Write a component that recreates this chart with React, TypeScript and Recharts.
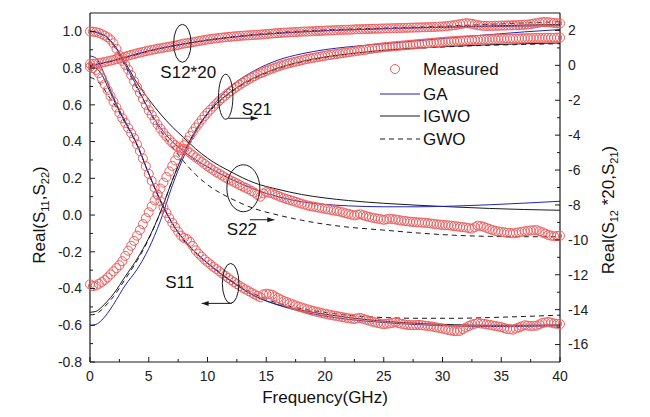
import React from "react";
import { ComposedChart, Line, Scatter, XAxis, YAxis, ReferenceDot, Legend } from "recharts";

const FONT = "'Liberation Sans', Arial, sans-serif";
const RED = "#ef5d5d";
const BLUE = "#2323b0";
const DARK = "#1a1a1a";

// measured frequency points (GHz), 0.25 GHz apart
const freq = [
  0, 0.25, 0.5, 0.75, 1, 1.25, 1.5, 1.75, 2, 2.25, 2.5, 2.75, 3, 3.25, 3.5, 3.75, 4, 4.25, 4.5, 4.75,
  5, 5.25, 5.5, 5.75, 6, 6.25, 6.5, 6.75, 7, 7.25, 7.5, 7.75, 8, 8.25, 8.5, 8.75, 9, 9.25, 9.5, 9.75,
  10, 10.25, 10.5, 10.75, 11, 11.25, 11.5, 11.75, 12, 12.25, 12.5, 12.75, 13, 13.25, 13.5, 13.75, 14, 14.25, 14.5, 14.75,
  15, 15.25, 15.5, 15.75, 16, 16.25, 16.5, 16.75, 17, 17.25, 17.5, 17.75, 18, 18.25, 18.5, 18.75, 19, 19.25, 19.5, 19.75,
  20, 20.25, 20.5, 20.75, 21, 21.25, 21.5, 21.75, 22, 22.25, 22.5, 22.75, 23, 23.25, 23.5, 23.75, 24, 24.25, 24.5, 24.75,
  25, 25.25, 25.5, 25.75, 26, 26.25, 26.5, 26.75, 27, 27.25, 27.5, 27.75, 28, 28.25, 28.5, 28.75, 29, 29.25, 29.5, 29.75,
  30, 30.25, 30.5, 30.75, 31, 31.25, 31.5, 31.75, 32, 32.25, 32.5, 32.75, 33, 33.25, 33.5, 33.75, 34, 34.25, 34.5, 34.75,
  35, 35.25, 35.5, 35.75, 36, 36.25, 36.5, 36.75, 37, 37.25, 37.5, 37.75, 38, 38.25, 38.5, 38.75, 39, 39.25, 39.5, 39.75,
  40,
];

// left axis: Real(S22), Real(S11)
const s22Meas = [
  1.0, 0.998, 0.996, 0.992, 0.985, 0.977, 0.968, 0.955, 0.935, 0.905, 0.87, 0.84, 0.818, 0.792, 0.762, 0.728, 0.696, 0.665, 0.632, 0.6,
  0.57, 0.545, 0.518, 0.493, 0.47, 0.448, 0.428, 0.41, 0.394, 0.38, 0.368, 0.362, 0.358, 0.352, 0.34, 0.326, 0.314, 0.303, 0.29, 0.278, 0.266,
  0.255, 0.244, 0.234, 0.225, 0.215, 0.205, 0.196, 0.188,
  0.18, 0.172, 0.163, 0.155, 0.148, 0.14, 0.131, 0.122,
  0.11, 0.1, 0.118, 0.125, 0.122, 0.118, 0.111, 0.105,
  0.098, 0.092, 0.087, 0.082, 0.077, 0.072, 0.067, 0.062,
  0.057, 0.052, 0.049, 0.046, 0.043, 0.04, 0.037, 0.034,
  0.031, 0.028, 0.025, 0.022, 0.019, 0.015, 0.01, 0.006,
  0.002, -0.002, 0.002, 0.004, -0.001, -0.006, -0.01, -0.014,
  -0.017, -0.02, -0.023, -0.026, -0.023, -0.02, -0.022, -0.024,
  -0.027, -0.03, -0.032, -0.034, -0.036, -0.038, -0.039, -0.04,
  -0.041, -0.042, -0.044, -0.046, -0.048, -0.05, -0.052, -0.054,
  -0.055, -0.056, -0.058, -0.06, -0.062, -0.064, -0.066, -0.068,
  -0.071, -0.074, -0.066, -0.058, -0.06, -0.064, -0.07, -0.076,
  -0.081, -0.086, -0.089, -0.092, -0.094, -0.096, -0.098, -0.1,
  -0.097, -0.094, -0.091, -0.088, -0.086, -0.084, -0.083, -0.082,
  -0.088, -0.094, -0.101, -0.108, -0.112, -0.116, -0.114, -0.112,
];
const s11Meas = [
  0.805, 0.8, 0.79, 0.772, 0.745, 0.712, 0.68, 0.648, 0.617, 0.586, 0.556, 0.528, 0.502, 0.474, 0.446, 0.418, 0.385, 0.348, 0.308, 0.266,
  0.224, 0.186, 0.148, 0.11, 0.075, 0.042, 0.012, -0.016, -0.042, -0.066, -0.09, -0.112, -0.125, -0.13, -0.146, -0.168, -0.192, -0.21, -0.226, -0.242, -0.256,
  -0.269, -0.282, -0.294, -0.306, -0.318, -0.33, -0.342, -0.354,
  -0.365, -0.376, -0.386, -0.396, -0.405, -0.414, -0.423, -0.432,
  -0.44, -0.448, -0.432, -0.428, -0.43, -0.434, -0.443, -0.452,
  -0.46, -0.468, -0.474, -0.48, -0.486, -0.492, -0.498, -0.503,
  -0.508, -0.513, -0.518, -0.522, -0.526, -0.53, -0.534, -0.537,
  -0.541, -0.544, -0.547, -0.55, -0.553, -0.556, -0.559, -0.562,
  -0.564, -0.566, -0.562, -0.56, -0.565, -0.57, -0.575, -0.58,
  -0.584, -0.588, -0.591, -0.594, -0.592, -0.59, -0.587, -0.584,
  -0.588, -0.592, -0.595, -0.598, -0.599, -0.6, -0.599, -0.598,
  -0.6, -0.602, -0.604, -0.606, -0.609, -0.612, -0.615, -0.618,
  -0.622, -0.626, -0.629, -0.632, -0.632, -0.63, -0.621, -0.612,
  -0.604, -0.596, -0.592, -0.588, -0.59, -0.592, -0.595, -0.598,
  -0.601, -0.604, -0.607, -0.61, -0.615, -0.62, -0.622, -0.624,
  -0.618, -0.612, -0.606, -0.6, -0.602, -0.604, -0.603, -0.602,
  -0.595, -0.588, -0.585, -0.582, -0.586, -0.59, -0.592, -0.594,
];
// right axis: Real(S21), Real(S12)*20
const s21Meas = [
  -12.55, -12.65, -12.62, -12.52, -12.42, -12.3, -12.15, -11.98, -11.8, -11.62, -11.45, -11.22, -10.92, -10.62, -10.34, -10.06, -9.76, -9.44, -9.1, -8.76,
  -8.42, -8.08, -7.74, -7.4, -7.06, -6.72, -6.4, -6.08, -5.76, -5.45, -5.15, -4.86, -4.58, -4.31, -4.05, -3.8, -3.56, -3.34, -3.12, -2.91, -2.72,
  -2.54, -2.36, -2.19, -2.03, -1.88, -1.74, -1.6, -1.47,
  -1.34, -1.22, -1.11, -1.0, -0.9, -0.8, -0.71, -0.62,
  -0.54, -0.46, -0.39, -0.32, -0.25, -0.19, -0.13, -0.07,
  -0.01, 0.04, 0.09, 0.13, 0.17, 0.21, 0.25, 0.29,
  0.33, 0.37, 0.4, 0.43, 0.46, 0.49, 0.52, 0.55,
  0.58, 0.6, 0.63, 0.65, 0.68, 0.7, 0.73, 0.75,
  0.78, 0.8, 0.83, 0.85, 0.88, 0.9, 0.93, 0.95,
  0.98, 1.0, 1.02, 1.04, 1.06, 1.07, 1.09, 1.1,
  1.12, 1.13, 1.15, 1.16, 1.18, 1.19, 1.21, 1.22,
  1.24, 1.25, 1.27, 1.28, 1.3, 1.31, 1.33, 1.34,
  1.36, 1.37, 1.38, 1.39, 1.4, 1.41, 1.42, 1.43,
  1.44, 1.45, 1.46, 1.46, 1.47, 1.48, 1.49, 1.49,
  1.5, 1.5, 1.51, 1.52, 1.53, 1.53, 1.53, 1.53,
  1.54, 1.54, 1.55, 1.55, 1.56, 1.56, 1.57, 1.57,
  1.57, 1.57, 1.58, 1.58, 1.58, 1.58, 1.59, 1.59,
];
const s12x20Meas = [
  0.08, 0.09, 0.11, 0.13, 0.16, 0.19, 0.23, 0.27, 0.31, 0.36, 0.4, 0.45, 0.5, 0.55, 0.6, 0.64, 0.69, 0.73, 0.77, 0.81,
  0.85, 0.88, 0.92, 0.95, 0.98, 1.01, 1.04, 1.07, 1.1, 1.13, 1.17, 1.21, 1.25, 1.27, 1.3, 1.33, 1.36, 1.39, 1.42, 1.45, 1.48,
  1.51, 1.53, 1.55, 1.57, 1.59, 1.61, 1.63, 1.64,
  1.66, 1.67, 1.69, 1.7, 1.71, 1.72, 1.73, 1.74,
  1.75, 1.76, 1.78, 1.79, 1.81, 1.82, 1.84, 1.85,
  1.86, 1.87, 1.88, 1.89, 1.9, 1.91, 1.92, 1.93,
  1.94, 1.94, 1.95, 1.96, 1.97, 1.97, 1.98, 1.99,
  2.0, 2.0, 2.01, 2.02, 2.03, 2.03, 2.04, 2.04,
  2.05, 2.06, 2.07, 2.07, 2.08, 2.08, 2.09, 2.09,
  2.1, 2.1, 2.11, 2.11, 2.12, 2.12, 2.13, 2.13,
  2.14, 2.14, 2.15, 2.15, 2.16, 2.16, 2.17, 2.17,
  2.18, 2.18, 2.19, 2.19, 2.2, 2.21, 2.22, 2.23,
  2.24, 2.26, 2.28, 2.3, 2.33, 2.36, 2.39, 2.41,
  2.4, 2.38, 2.34, 2.3, 2.28, 2.26, 2.26, 2.26,
  2.26, 2.27, 2.27, 2.28, 2.28, 2.29, 2.29, 2.3,
  2.3, 2.31, 2.32, 2.33, 2.34, 2.36, 2.39, 2.42,
  2.45, 2.48, 2.48, 2.47, 2.45, 2.43, 2.41, 2.4,
];

// fitted model curves
const fitFreq = [0, 0.5, 1, 1.5, 2, 3, 4, 5, 6, 7, 8, 9, 10, 12, 14, 16, 18, 20, 22, 25, 28, 31, 34, 37, 40];

const s22GA = [1.0, 0.996, 0.985, 0.965, 0.93, 0.82, 0.7, 0.575, 0.475, 0.4, 0.345, 0.3, 0.262, 0.195, 0.14, 0.1, 0.072, 0.058, 0.05, 0.045, 0.045, 0.049, 0.056, 0.065, 0.075];
const s22IGWO = [1.0, 0.996, 0.985, 0.965, 0.93, 0.83, 0.72, 0.63, 0.55, 0.48, 0.42, 0.36, 0.31, 0.235, 0.175, 0.14, 0.112, 0.093, 0.079, 0.064, 0.053, 0.044, 0.036, 0.03, 0.026];
const s22GWO = [1.0, 0.995, 0.982, 0.96, 0.922, 0.81, 0.69, 0.57, 0.46, 0.37, 0.29, 0.22, 0.165, 0.09, 0.035, 0.0, -0.028, -0.05, -0.066, -0.082, -0.098, -0.11, -0.116, -0.118, -0.118];

const s11GA = [0.866, 0.855, 0.8, 0.72, 0.64, 0.51, 0.385, 0.225, 0.078, -0.045, -0.135, -0.205, -0.262, -0.36, -0.44, -0.49, -0.525, -0.55, -0.568, -0.585, -0.597, -0.604, -0.607, -0.606, -0.603];
const s11IGWO = [0.81, 0.8, 0.765, 0.7, 0.63, 0.505, 0.385, 0.225, 0.078, -0.045, -0.135, -0.205, -0.262, -0.36, -0.44, -0.488, -0.518, -0.54, -0.558, -0.578, -0.59, -0.597, -0.6, -0.6, -0.598];
const s11GWO = [0.75, 0.735, 0.705, 0.655, 0.61, 0.5, 0.38, 0.225, 0.075, -0.045, -0.14, -0.205, -0.26, -0.355, -0.43, -0.48, -0.51, -0.53, -0.546, -0.558, -0.562, -0.562, -0.558, -0.552, -0.545];

const s21GA = [-14.9, -14.85, -14.6, -14.2, -13.7, -12.6, -11.7, -10.5, -8.9, -6.9, -5.2, -3.8, -2.75, -1.2, -0.3, 0.3, 0.66, 0.9, 1.06, 1.24, 1.42, 1.6, 1.76, 1.92, 2.05];
const s21IGWO = [-14.15, -14.1, -13.85, -13.5, -13.1, -12.1, -11.1, -9.9, -8.4, -6.6, -5.0, -3.7, -2.75, -1.5, -0.7, -0.15, 0.22, 0.48, 0.66, 0.86, 1.0, 1.1, 1.18, 1.24, 1.28];
const s21GWO = [-14.3, -14.25, -14.0, -13.65, -13.25, -12.25, -11.2, -9.95, -8.4, -6.6, -5.0, -3.75, -2.8, -1.55, -0.75, -0.2, 0.18, 0.45, 0.64, 0.84, 0.98, 1.08, 1.15, 1.2, 1.24];

const s12GA = [0.0, 0.05, 0.12, 0.2, 0.29, 0.48, 0.67, 0.84, 0.99, 1.12, 1.24, 1.35, 1.45, 1.62, 1.75, 1.85, 1.93, 1.99, 2.04, 2.1, 2.15, 2.19, 2.22, 2.25, 2.27];
const s12IGWO = [0.02, 0.06, 0.12, 0.19, 0.27, 0.45, 0.64, 0.82, 0.97, 1.1, 1.22, 1.33, 1.43, 1.6, 1.73, 1.83, 1.91, 1.98, 2.03, 2.1, 2.16, 2.21, 2.26, 2.31, 2.35];
const s12GWO = [0.0, 0.04, 0.1, 0.17, 0.25, 0.43, 0.62, 0.8, 0.96, 1.1, 1.23, 1.35, 1.46, 1.64, 1.78, 1.89, 1.97, 2.03, 2.08, 2.14, 2.2, 2.27, 2.35, 2.43, 2.5];

const xTicks = [0, 2.5, 5, 7.5, 10, 12.5, 15, 17.5, 20, 22.5, 25, 27.5, 30, 32.5, 35, 37.5, 40];
const leftTicks = [-0.8, -0.7, -0.6, -0.5, -0.4, -0.3, -0.2, -0.1, 0, 0.1, 0.2, 0.3, 0.4, 0.5, 0.6, 0.7, 0.8, 0.9, 1.0];
const rightTicks = [-16, -15, -14, -13, -12, -11, -10, -9, -8, -7, -6, -5, -4, -3, -2, -1, 0, 1, 2];

const pts = (xs: number[], ys: number[]) => xs.map((f, i) => ({ f, v: ys[i] }));

const measured = [
  { key: "s22", ys: s22Meas, axis: "l" },
  { key: "s11", ys: s11Meas, axis: "l" },
  { key: "s21", ys: s21Meas, axis: "r" },
  { key: "s12", ys: s12x20Meas, axis: "r" },
];

const METHOD_STYLE: Record<string, { stroke: string; dash?: string }> = {
  GA: { stroke: BLUE },
  IGWO: { stroke: DARK },
  GWO: { stroke: DARK, dash: "5 4" },
};

const fits = [
  { key: "s22GWO", ys: s22GWO, axis: "l", m: "GWO" },
  { key: "s11GWO", ys: s11GWO, axis: "l", m: "GWO" },
  { key: "s21GWO", ys: s21GWO, axis: "r", m: "GWO" },
  { key: "s12GWO", ys: s12GWO, axis: "r", m: "GWO" },
  { key: "s22IGWO", ys: s22IGWO, axis: "l", m: "IGWO" },
  { key: "s11IGWO", ys: s11IGWO, axis: "l", m: "IGWO" },
  { key: "s21IGWO", ys: s21IGWO, axis: "r", m: "IGWO" },
  { key: "s12IGWO", ys: s12IGWO, axis: "r", m: "IGWO" },
  { key: "s22GA", ys: s22GA, axis: "l", m: "GA" },
  { key: "s11GA", ys: s11GA, axis: "l", m: "GA" },
  { key: "s21GA", ys: s21GA, axis: "r", m: "GA" },
  { key: "s12GA", ys: s12GA, axis: "r", m: "GA" },
];

const Ring = (p: any) => <circle cx={p.cx} cy={p.cy} r={4.5} fill="none" stroke={RED} strokeWidth={1} />;

const XTick = ({ x, y, payload }: any) => {
  const major = payload.value % 5 === 0;
  return (
    <g>
      <line x1={x} y1={y} x2={x} y2={y - (major ? 5 : 3)} stroke={DARK} />
      {major && (
        <text x={x} y={y + 19} textAnchor="middle" fontSize={14} fontFamily={FONT} fill="#222">
          {payload.value}
        </text>
      )}
    </g>
  );
};
const TopTick = ({ x, y, payload }: any) => {
  const major = payload.value % 5 === 0;
  return <line x1={x} y1={y} x2={x} y2={y + (major ? 5 : 3)} stroke={DARK} />;
};
const LeftTick = ({ x, y, payload }: any) => {
  const major = Math.round(payload.value * 10) % 2 === 0;
  return (
    <g>
      <line x1={x} y1={y} x2={x + (major ? 5 : 3)} y2={y} stroke={DARK} />
      {major && (
        <text x={x - 8} y={y} dy="0.35em" textAnchor="end" fontSize={14} fontFamily={FONT} fill="#222">
          {payload.value.toFixed(1)}
        </text>
      )}
    </g>
  );
};
const RightTick = ({ x, y, payload }: any) => {
  const major = payload.value % 2 === 0;
  return (
    <g>
      <line x1={x} y1={y} x2={x - (major ? 5 : 3)} y2={y} stroke={DARK} />
      {major && (
        <text x={x + 8} y={y} dy="0.35em" textAnchor="start" fontSize={14} fontFamily={FONT} fill="#222">
          {payload.value}
        </text>
      )}
    </g>
  );
};

const XTitle = ({ viewBox }: any) => (
  <text x={viewBox.x + viewBox.width / 2} y={viewBox.y + 41} textAnchor="middle" fontSize={17} fontFamily={FONT} fill="#111">
    Frequency(GHz)
  </text>
);
const LeftTitle = ({ viewBox }: any) => {
  const cx = viewBox.x + 39;
  const cy = viewBox.y + 202;
  return (
    <text x={cx} y={cy} dy="0.35em" textAnchor="middle" transform={`rotate(-90, ${cx}, ${cy})`} fontSize={17} fontFamily={FONT} fill="#111">
      Real(S<tspan fontSize={11} dy={4}>11</tspan>
      <tspan dy={-4}>,S</tspan>
      <tspan fontSize={11} dy={4}>22</tspan>
      <tspan dy={-4}>)</tspan>
    </text>
  );
};
const RightTitle = ({ viewBox }: any) => {
  const cx = viewBox.x + 48;
  const cy = viewBox.y + 197;
  return (
    <text x={cx} y={cy} dy="0.35em" textAnchor="middle" transform={`rotate(-90, ${cx}, ${cy})`} fontSize={17} fontFamily={FONT} fill="#111">
      Real(S<tspan fontSize={11} dy={4}>12</tspan>
      <tspan dy={-4}> *20,S</tspan>
      <tspan fontSize={11} dy={4}>21</tspan>
      <tspan dy={-4}>)</tspan>
    </text>
  );
};

// ellipse call-outs marking each group of curves
const Note = ({ cx = 0, cy = 0, rx, ry, text, tx, ty, arrow }: any) => {
  let arr = null;
  if (arrow) {
    const [ay, a1, a2] = arrow;
    const dir = a2 > a1 ? 1 : -1;
    arr = (
      <g>
        <line x1={cx + a1} y1={cy + ay} x2={cx + a2} y2={cy + ay} stroke={DARK} strokeWidth={1} />
        <path d={`M${cx + a2},${cy + ay} l${-dir * 7},-2.5 l0,5 z`} fill={DARK} />
      </g>
    );
  }
  return (
    <g>
      <ellipse cx={cx} cy={cy} rx={rx} ry={ry} fill="none" stroke={DARK} strokeWidth={1} />
      {arr}
      <text x={cx + tx} y={cy + ty} fontSize={17} fontFamily={FONT} fill="#111">
        {text}
      </text>
    </g>
  );
};

const LegendBox = () => (
  <svg width={130} height={100} style={{ display: "block" }}>
    <circle cx={25} cy={14} r={4.5} fill="#fff" stroke={RED} />
    <text x={53} y={14} dy="0.35em" fontSize={17} fontFamily={FONT} fill="#111">Measured</text>
    <line x1={10} y1={39} x2={50} y2={39} stroke={BLUE} />
    <text x={53} y={39} dy="0.35em" fontSize={17} fontFamily={FONT} fill="#111">GA</text>
    <line x1={10} y1={61} x2={50} y2={61} stroke={DARK} />
    <text x={53} y={61} dy="0.35em" fontSize={17} fontFamily={FONT} fill="#111">IGWO</text>
    <line x1={10} y1={84} x2={50} y2={84} stroke={DARK} strokeDasharray="5 4" />
    <text x={53} y={84} dy="0.35em" fontSize={17} fontFamily={FONT} fill="#111">GWO</text>
  </svg>
);

export default function App() {
  return (
    <div style={{ position: "absolute", left: 0, top: 0, background: "#fff" }}>
      <ComposedChart width={650} height={417} margin={{ top: 12, right: 0, bottom: 0, left: 0 }}>
        <XAxis
          xAxisId="b"
          type="number"
          dataKey="f"
          domain={[0, 40]}
          ticks={xTicks}
          interval={0}
          height={55}
          tickSize={0}
          tickMargin={0}
          tick={XTick}
          axisLine={{ stroke: DARK, strokeWidth: 1.2 }}
          label={XTitle}
        />
        <XAxis
          xAxisId="t"
          orientation="top"
          type="number"
          domain={[0, 40]}
          ticks={xTicks}
          interval={0}
          height={1}
          tickSize={0}
          tickMargin={0}
          tick={TopTick}
          axisLine={{ stroke: DARK, strokeWidth: 1.2 }}
        />
        <YAxis
          yAxisId="l"
          type="number"
          domain={[-0.8, 1.1]}
          allowDataOverflow
          ticks={leftTicks}
          interval={0}
          width={90}
          tickSize={0}
          tickMargin={0}
          tick={LeftTick}
          axisLine={{ stroke: DARK, strokeWidth: 1.2 }}
          label={LeftTitle}
        />
        <YAxis
          yAxisId="r"
          orientation="right"
          type="number"
          domain={[-17, 3]}
          allowDataOverflow
          ticks={rightTicks}
          interval={0}
          width={90}
          tickSize={0}
          tickMargin={0}
          tick={RightTick}
          axisLine={{ stroke: DARK, strokeWidth: 1.2 }}
          label={RightTitle}
        />
        {measured.map((s) => (
          <Scatter
            key={s.key}
            name={s.key}
            data={pts(freq, s.ys)}
            dataKey="v"
            xAxisId="b"
            yAxisId={s.axis}
            shape={Ring}
            isAnimationActive={false}
          />
        ))}
        {fits.map((s) => (
          <Line
            key={s.key}
            data={pts(fitFreq, s.ys)}
            dataKey="v"
            xAxisId="b"
            yAxisId={s.axis}
            type="monotone"
            stroke={METHOD_STYLE[s.m].stroke}
            strokeDasharray={METHOD_STYLE[s.m].dash}
            strokeWidth={1}
            dot={false}
            activeDot={false}
            isAnimationActive={false}
          />
        ))}
        <ReferenceDot xAxisId="b" yAxisId="l" x={7.86} y={0.935} shape={(p: any) => <Note {...p} rx={8.7} ry={19} text="S12*20" tx={-22} ty={35} />} />
        <ReferenceDot xAxisId="b" yAxisId="l" x={11.55} y={0.644} shape={(p: any) => <Note {...p} rx={7.2} ry={22.5} text="S21" tx={16} ty={18} arrow={[21.5, 2.5, 32]} />} />
        <ReferenceDot xAxisId="b" yAxisId="l" x={13.05} y={0.146} shape={(p: any) => <Note {...p} rx={16.5} ry={23.5} text="S22" tx={-16.5} ty={46.5} arrow={[31.5, 6.5, 31]} />} />
        <ReferenceDot xAxisId="b" yAxisId="l" x={11.97} y={-0.372} shape={(p: any) => <Note {...p} rx={8.3} ry={20} text="S11" tx={-65.5} ty={5} arrow={[20, 1, -29]} />} />
        <Legend
          layout="vertical"
          align="center"
          verticalAlign="middle"
          wrapperStyle={{ left: 370, top: 55, width: 130, height: 100 }}
          content={LegendBox}
        />
      </ComposedChart>
    </div>
  );
}
